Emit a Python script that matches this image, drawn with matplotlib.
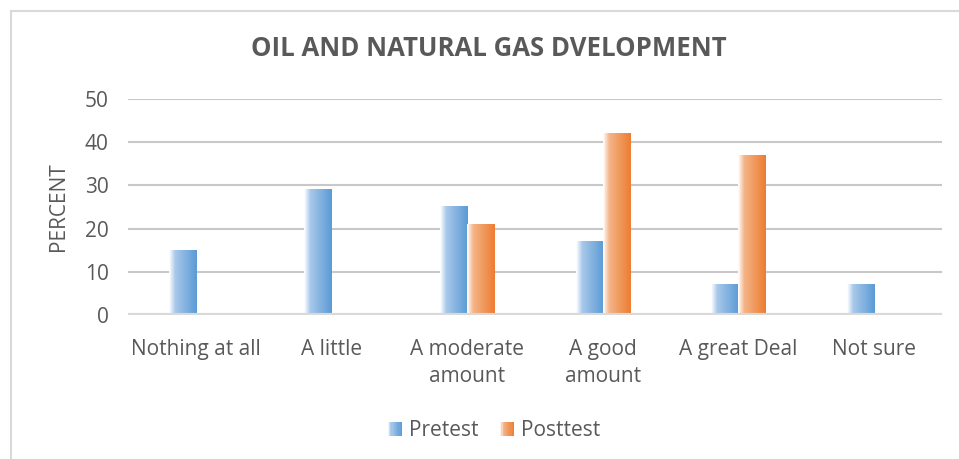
import numpy as np
import matplotlib
matplotlib.use("Agg")
import matplotlib.pyplot as plt
from matplotlib.colors import LinearSegmentedColormap
from matplotlib.patches import Rectangle
from matplotlib.legend_handler import HandlerBase

categories = ["Nothing at all", "A little", "A moderate\namount", "A good\namount",
              "A great Deal", "Not sure"]
pretest = [15, 29, 25, 17, 7, 7]
posttest = [0, 0, 21, 42, 37, 0]
series_names = ["Pretest", "Posttest"]
yticks = [0, 10, 20, 30, 40, 50]

plt.rcParams["font.family"] = ["Open Sans", "DejaVu Sans"]
text_col = "#595959"
grid_col = "#D9D9D9"

cmaps = [
    LinearSegmentedColormap.from_list("blue", [(0, "#ffffff"), (0.22, "#a8c8ea"), (1, "#5b9bd5")]),
    LinearSegmentedColormap.from_list("orange", [(0, "#ffffff"), (0.22, "#f4b487"), (1, "#ed7d31")]),
]
grad = np.linspace(0, 1, 64).reshape(1, -1)

fig = plt.figure(figsize=(9.59, 4.59), dpi=100)
ax = fig.add_axes([0.1335, 0.3137, 0.982 - 0.1335, 0.7843 - 0.3137])

x = np.arange(len(categories))
width = 0.2
for k, vals in enumerate([pretest, posttest]):
    offset = -width / 2 if k == 0 else width / 2
    for xi, v in zip(x, vals):
        if v <= 0:
            continue
        left = xi + offset - width / 2
        ax.imshow(grad, cmap=cmaps[k], aspect="auto", interpolation="bilinear",
                  extent=[left, left + width, 0, v], zorder=3)

ax.set_xlim(-0.5, len(categories) - 0.5)
ax.set_ylim(0, 50)
ax.set_yticks(yticks)
ax.set_xticks(x)
ax.set_xticklabels(categories, fontsize=15, color=text_col, linespacing=1.4)
ax.tick_params(axis="y", labelsize=15, labelcolor=text_col, length=0, pad=14)
ax.tick_params(axis="x", length=0, pad=17)
for s in ax.spines.values():
    s.set_visible(False)
for t in yticks[1:]:
    ax.axhline(t, color="#c8c8c8", lw=1.5, zorder=1)
ax.axhline(0, color=grid_col, lw=3, zorder=4)

ax.set_ylabel("PERCENT", fontsize=15, color=text_col, labelpad=11)
fig.text(0.51, 0.895, "OIL AND NATURAL GAS DVELOPMENT", ha="center", va="center",
         fontsize=18.5, fontweight="bold", color=text_col)


class GradientHandler(HandlerBase):
    def __init__(self, cmap):
        super().__init__()
        self.cmap = cmap

    def create_artists(self, legend, orig_handle, xdescent, ydescent, width, height,
                       fontsize, trans):
        n = 12
        side = height * 0.95
        x0 = width - side
        arts = []
        for i in range(n):
            r = Rectangle((x0 + i * side / n - xdescent, -ydescent),
                          side / n * 1.05, side, facecolor=self.cmap((i + 0.5) / n),
                          edgecolor="none", transform=trans)
            arts.append(r)
        return arts


h1 = Rectangle((0, 0), 1, 1)
h2 = Rectangle((0, 0), 1, 1)
fig.legend([h1, h2], series_names, loc="center", bbox_to_anchor=(0.514, 0.062),
           ncol=2, frameon=False, fontsize=15, labelcolor=text_col,
           handler_map={h1: GradientHandler(cmaps[0]), h2: GradientHandler(cmaps[1])},
           handlelength=0.8, handletextpad=0.35, columnspacing=0.9)

frame = Rectangle((10.5 / 959, -0.2), 1.2, 1.2 - 11 / 459, transform=fig.transFigure,
                  fill=False, edgecolor=grid_col, lw=1.5)
fig.patches.append(frame)

fig.savefig("out.png", dpi=100, facecolor="white")
